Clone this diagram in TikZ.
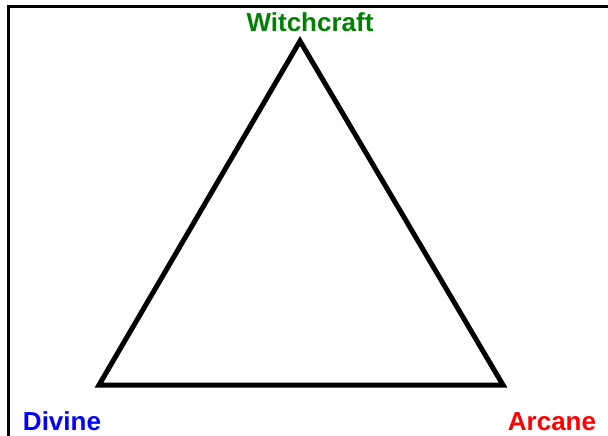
\documentclass[tikz,border=0pt]{standalone}
\usepackage{fontspec}
\setmainfont{Liberation Sans}
\usetikzlibrary{positioning}
\definecolor{witchgreen}{RGB}{0,128,0}
\definecolor{divineblue}{RGB}{0,0,255}
\definecolor{arcanered}{RGB}{255,0,0}
\tikzset{
  corner/.style={font=\fontsize{26}{30}\selectfont\bfseries, anchor=base, inner sep=0pt},
  edge/.style={line width=5pt, line join=miter},
  frame/.style={line width=3pt}
}

\begin{document}
\begin{tikzpicture}[x=1pt, y=-1pt]
    \useasboundingbox (0,0) rectangle (608,436);

    % Marco (solo arriba e izquierda)
    \coordinate (FTL) at (8,7);
    \coordinate (FTR) at (608,7);
    \coordinate (FBL) at (8,436);
    \draw[frame] (FBL) -- (FTL) -- (FTR);

    % Vertices del triangulo
    \coordinate (top) at (300,41);
    \coordinate (left) at (99,385);
    \coordinate (right) at (503,385);
    \draw[edge] (top) -- (left) -- (right) -- cycle;

    % Etiquetas
    \node[corner, text=witchgreen] (witch) at (310,32) {Witchcraft};
    \node[corner, text=divineblue] (divine) at (62,430) {Divine};
    \node[corner, text=arcanered] (arcane) at (552,430) {Arcane};

\end{tikzpicture}
\end{document}
